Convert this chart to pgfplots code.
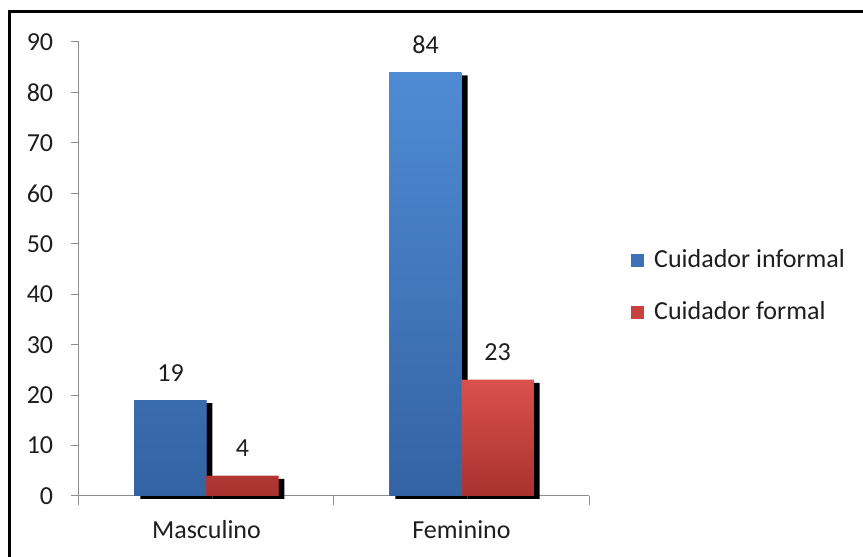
\documentclass[border=0pt]{standalone}
\usepackage{pgfplots}
\pgfplotsset{compat=1.18}
\usepackage{fontspec}
\setmainfont{Carlito}
\definecolor{txt}{HTML}{1E1E1E}
\definecolor{axg}{HTML}{8C8C8C}
\definecolor{bluetop}{HTML}{4F8BD4}
\definecolor{bluebot}{HTML}{3363A3}
\definecolor{bluemid}{HTML}{3D72B8}
\definecolor{redtop}{HTML}{DB504C}
\definecolor{redmid}{HTML}{C9403C}
\definecolor{redbot}{HTML}{A8322F}
\begin{document}
\fontsize{26pt}{31pt}\selectfont
\begin{tikzpicture}
\useasboundingbox (-79pt,-61pt) rectangle (784pt,496pt);
\clip (-79pt,-61pt) rectangle (784pt,496pt);
\begin{axis}[
  at={(0pt,0pt)}, anchor=south west,
  scale only axis, width=510pt, height=454pt,
  ybar=0pt, bar width=72pt,
  xmin=-0.5, xmax=1.5, ymin=0, ymax=90,
  axis x line=bottom, axis y line=left,
  axis line style={draw=axg, line width=1pt, -},
  xtick={0,1}, xticklabels={Masculino,Feminino},
  minor xtick={-0.5,0.5,1.5},
  ytick={0,10,...,90},
  tick align=outside,
  major tick length=8pt, minor tick length=9pt,
  x tick style={draw=none},
  minor x tick style={draw=axg, line width=1pt},
  y tick style={draw=axg, line width=1pt},
  tick label style={font=\fontsize{26pt}{31pt}\selectfont, text=txt},
  yticklabel style={xshift=-9pt},
  xticklabel style={yshift=-8pt},
  /pgf/number format/assume math mode=true,
  clip=false,
  nodes near coords,
  every node near coord/.append style={font=\fontsize{26pt}{31pt}\selectfont, text=txt, yshift=10pt},
  legend style={at={(1.0765,0.462)}, anchor=west, draw=none, fill=none,
    font=\fontsize{26pt}{31pt}\selectfont, text=txt, row sep=26pt},
  legend cell align=left,
]
\addplot[draw=none, fill=bluemid,
  preaction={fill=black, transform canvas={xshift=6pt, yshift=-3pt}},
  postaction={top color=bluetop, bottom color=bluebot},
  legend image code/.code={%
    \pgfpathrectangle{\pgfpoint{0pt}{-6.5pt}}{\pgfpoint{13pt}{13pt}}%
    \pgfsetfillcolor{bluemid}\pgfusepath{fill}%
    \pgfpathrectangle{\pgfpoint{0pt}{0pt}}{\pgfpoint{21pt}{0.01pt}}\pgfusepath{}}]
  coordinates {(0,19) (1,84)};
\addplot[draw=none, fill=redmid,
  preaction={fill=black, transform canvas={xshift=6pt, yshift=-3pt}},
  postaction={top color=redtop, bottom color=redbot},
  legend image code/.code={%
    \pgfpathrectangle{\pgfpoint{0pt}{-6.5pt}}{\pgfpoint{13pt}{13pt}}%
    \pgfsetfillcolor{redmid}\pgfusepath{fill}%
    \pgfpathrectangle{\pgfpoint{0pt}{0pt}}{\pgfpoint{21pt}{0.01pt}}\pgfusepath{}}]
  coordinates {(0,4) (1,23)};
\legend{Cuidador informal, Cuidador formal}
\end{axis}
\draw[line width=3pt, black] (-69pt,-80pt) -- (-69pt,484pt) -- (800pt,484pt);
\end{tikzpicture}
\end{document}
